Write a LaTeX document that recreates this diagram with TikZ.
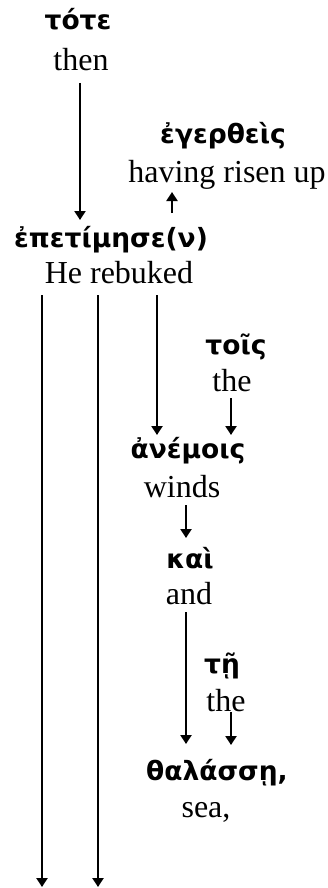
\documentclass[tikz,border=0pt]{standalone}
\usepackage{fontspec}
\setmainfont{Liberation Serif}
\newfontfamily\grk{DejaVu Sans}
\usetikzlibrary{arrows.meta}
\tikzset{
  en/.style={anchor=base,inner sep=0pt,font=\fontsize{32}{36}\selectfont},
  gr/.style={anchor=base,inner sep=0pt,font=\grk\bfseries\fontsize{26.5}{30}\selectfont},
  arr/.style={line width=2.2pt,-{Triangle[length=9pt,width=11pt]}}
}
\begin{document}
\begin{tikzpicture}[x=1pt,y=-1pt]
\useasboundingbox (0,0) rectangle (328,888);
\node[gr] (tote) at (78,30) {τότε};
\node[en] (then) at (81,71) {then};
\node[gr] (eger) at (223,143) {ἐγερθεὶς};
\node[en] (risen) at (227,182) {having risen up};
\node[gr] (epet) at (111,247) {ἐπετίμησε(ν)};
\node[en] (rebuked) at (119,283) {He rebuked};
\node[gr] (tois) at (236,354) {τοῖς};
\node[en] (the1) at (232,391) {the};
\node[gr] (anem) at (188,458) {ἀνέμοις};
\node[en] (winds) at (182,497) {winds};
\node[gr] (kai) at (190,568) {καὶ};
\node[en] (and) at (189,604) {and};
\node[gr] (te) at (222,673) {τῇ};
\node[en] (the2) at (226,711) {the};
\node[gr] (thal) at (217,780) {θαλάσσῃ,};
\node[en] (sea) at (206,817) {sea,};
\coordinate (out1) at (42,887);
\coordinate (out2) at (98,887);
\draw[arr] ([xshift=-1pt,yshift=-12pt]then.base) -- ([xshift=-31pt,yshift=27pt]epet.base);
\draw[arr] ([xshift=61pt,yshift=34pt]epet.base) -- ([xshift=-55pt,yshift=-10pt]risen.base);
\draw[arr] ([xshift=38pt,yshift=-12pt]rebuked.base) -- ([xshift=-31pt,yshift=23pt]anem.base);
\draw[arr] ([xshift=-1pt,yshift=-7pt]the1.base) -- ([xshift=43pt,yshift=23pt]anem.base);
\draw[arr] ([xshift=4pt,yshift=-8pt]winds.base) -- ([xshift=-4pt,yshift=30pt]kai.base);
\draw[arr] ([xshift=-3pt,yshift=-8pt]and.base) -- ([xshift=-31pt,yshift=36pt]thal.base);
\draw[arr] ([xshift=5pt,yshift=-1pt]the2.base) -- ([xshift=14pt,yshift=35pt]thal.base);
\draw[arr] ([xshift=-77pt,yshift=-12pt]rebuked.base) -- (out1);
\draw[arr] ([xshift=-21pt,yshift=-12pt]rebuked.base) -- (out2);
\end{tikzpicture}
\end{document}
